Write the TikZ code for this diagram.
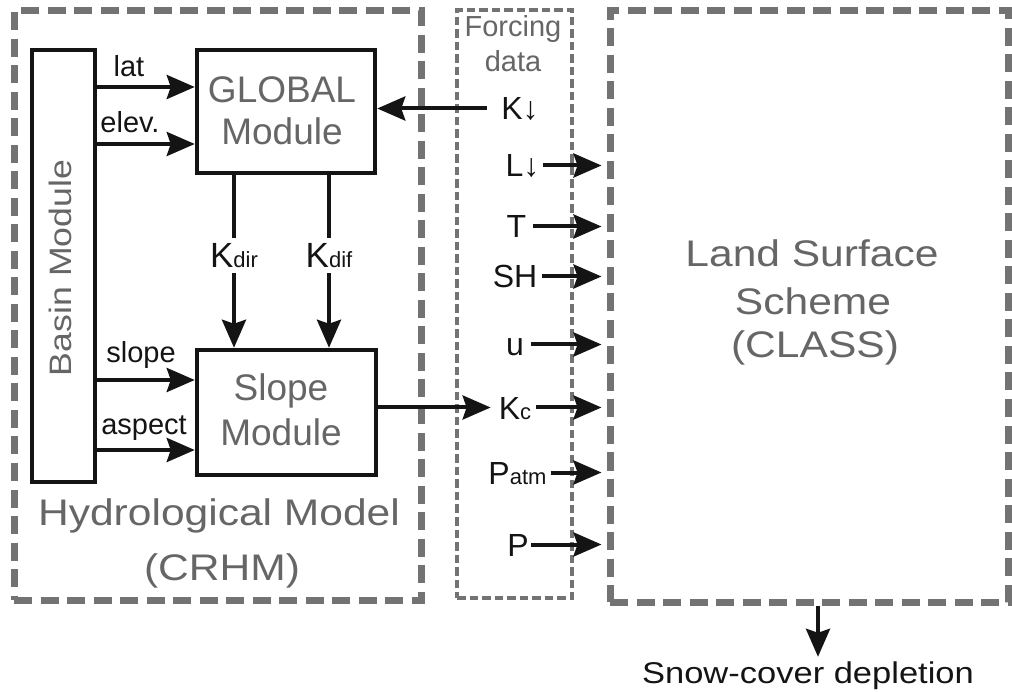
\documentclass[tikz,border=0pt]{standalone}
\usepackage{fontspec}
\setmainfont{Liberation Sans}
\newfontfamily\widefont[FakeStretch=1.15]{Liberation Sans}
\usetikzlibrary{arrows.meta}
\newcommand{\myfs}[1]{\fontsize{#1}{#1}\selectfont}
\newcommand{\smallsub}[1]{{\myfs{22}#1}}
\definecolor{ink}{HTML}{141414}
\definecolor{dashgray}{HTML}{737373}
\definecolor{txtgray}{HTML}{666666}
\begin{document}
\begin{tikzpicture}[x=1pt,y=-1pt,
  heavy/.style={draw=dashgray, line width=7pt, dash pattern=on 18pt off 8.5pt, inner sep=0pt},
  light/.style={draw=dashgray, line width=3.3pt, dash pattern=on 8.5pt off 4pt, inner sep=0pt},
  box/.style={draw=ink, line width=4.5pt, fill=white, inner sep=0pt},
  conn/.style={draw=ink, line width=4pt},
  arr/.style={conn, -{Stealth[length=28pt,width=24pt,inset=4pt]}},
  lbl/.style={anchor=base, inner sep=0pt, text=ink, font=\myfs{29}},
  fl/.style={anchor=base, inner sep=0pt, text=ink, font=\myfs{32}, text height=23pt, text depth=0pt},
  gt/.style={anchor=base, inner sep=0pt, text=txtgray},
]
\useasboundingbox (0,0) rectangle (1012,692);

% containers
\node[heavy, minimum width=407pt, minimum height=589pt] (hyd) at (217.5,305.5) {};
\node[light, minimum width=115pt, minimum height=588pt] (forc) at (514.5,304) {};
\node[heavy, minimum width=398pt, minimum height=591pt] (lss) at (809,306.5) {};

\node[gt, font=\widefont\myfs{37}] (hyd1) at (219,525) {Hydrological Model};
\node[gt, font=\widefont\myfs{37}] (hyd2) at (222,580) {(CRHM)};
\node[gt, font=\myfs{29}] (forc1) at (513,37) {Forcing};
\node[gt, font=\myfs{29}] (forc2) at (513,72) {data};
\node[gt, font=\widefont\myfs{37}] (lss1) at (812,267) {Land Surface};
\node[gt, font=\widefont\myfs{37}] (lss2) at (813,315) {Scheme};
\node[gt, font=\widefont\myfs{37}] (lss3) at (815,358) {(CLASS)};

% modules
\node[box, minimum width=63pt, minimum height=432pt] (basin) at (63.5,266) {};
\node[gt, font=\widefont\myfs{31}, rotate=90] (basint) at (71,268) {Basin Module};
\node[box, minimum width=178pt, minimum height=123pt] (global) at (286,111.5) {};
\node[gt, font=\myfs{37}] (g1) at (282,103) {GLOBAL};
\node[gt, font=\myfs{37}] (g2) at (282,145) {Module};
\node[box, minimum width=179pt, minimum height=125pt] (slope) at (286.5,412.5) {};
\node[gt, font=\myfs{37}] (s1) at (281,400) {Slope};
\node[gt, font=\myfs{37}] (s2) at (281,445) {Module};

% basin outputs
\coordinate (ylat) at (0,87);
\coordinate (yelev) at (0,144);
\coordinate (yslope) at (0,380);
\coordinate (yasp) at (0,450);
\draw[arr] (basin.east |- ylat) -- (global.west |- ylat);
\draw[arr] (basin.east |- yelev) -- (global.west |- yelev);
\draw[arr] (basin.east |- yslope) -- (slope.west |- yslope);
\draw[arr] (basin.east |- yasp) -- (slope.west |- yasp);
\node[lbl] (lat) at (129,77) {lat};
\node[lbl] (elev) at (130,133) {elev.};
\node[lbl] (slopel) at (141,363) {slope};
\node[lbl] (asp) at (144,435) {aspect};

% radiation components
\node[anchor=base, inner sep=0pt, text=ink, font=\myfs{35}, text height=30pt, text depth=5pt] (kdir) at (234,268) {K\smallsub{dir}};
\node[anchor=base, inner sep=0pt, text=ink, font=\myfs{35}, text height=30pt, text depth=5pt] (kdif) at (329,268) {K\smallsub{dif}};
\draw[conn] (global.south -| kdir.north) -- (kdir.north);
\draw[arr] (kdir.south) -- (slope.north -| kdir.south);
\draw[conn] (global.south -| kdif.north) -- (kdif.north);
\draw[arr] (kdif.south) -- (slope.north -| kdif.south);

% forcing data
\node[fl] (kdn) at (520,120) {K↓};
\node[fl] (ldn) at (522.5,177) {L↓};
\node[fl] (t) at (516.5,238) {T};
\node[fl] (sh) at (515,288) {SH};
\node[fl] (u) at (515,356) {u};
\node[fl] (kc) at (515,419) {K\smallsub{c}};
\node[fl] (patm) at (517.5,484) {P\smallsub{atm}};
\node[fl] (p) at (518,556) {P};

\coordinate (rin) at ([xshift=-5pt]lss.west);
\draw[arr] ([xshift=-14pt]kdn.west) -- (global.east |- kdn.west);
\draw[arr] (slope.east |- kc.west) -- ([xshift=-8pt]kc.west);
\draw[arr] ([xshift=3pt]ldn.east) -- (rin |- ldn.east);
\draw[arr] ([xshift=7pt]t.east) -- (rin |- t.east);
\draw[arr] ([xshift=5pt]sh.east) -- (rin |- sh.east);
\draw[arr] ([xshift=7pt]u.east) -- (rin |- u.east);
\draw[arr] ([xshift=5pt]kc.east) -- (rin |- kc.east);
\draw[arr] ([xshift=4pt]patm.east) -- (rin |- patm.east);
\draw[arr] ([xshift=2pt]p.east) -- (rin |- p.east);

% output
\node[anchor=base, inner sep=0pt, text=ink, font=\widefont\myfs{30}, text height=26pt] (snow) at (808,683) {Snow-cover depletion};
\coordinate (sx) at (818,0);
\draw[arr] (lss.south -| sx) -- (sx |- snow.north);
\end{tikzpicture}
\end{document}
